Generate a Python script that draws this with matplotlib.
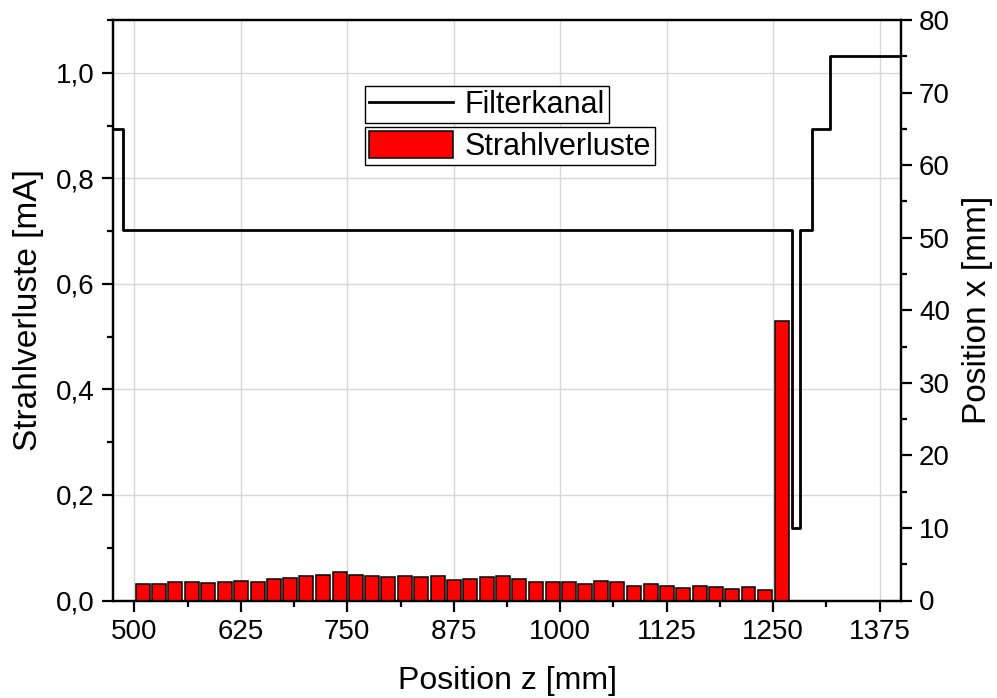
import matplotlib.pyplot as plt
from matplotlib.ticker import MultipleLocator, FuncFormatter
from matplotlib.lines import Line2D
from matplotlib.patches import Patch

plt.rcParams['font.family'] = ['Liberation Sans', 'DejaVu Sans']

# Strahlverluste per position (bars)
z_bars = [510, 529, 548, 568, 587, 606, 625, 645, 664, 683,
          702, 721, 741, 760, 779, 798, 818, 837, 856, 875,
          894, 914, 933, 952, 971, 991, 1010, 1029, 1048, 1067,
          1087, 1106, 1125, 1144, 1164, 1183, 1202, 1221, 1240, 1260]
verluste = [0.032, 0.032, 0.035, 0.035, 0.034, 0.036, 0.037, 0.036, 0.040, 0.042,
            0.046, 0.049, 0.054, 0.048, 0.047, 0.045, 0.047, 0.044, 0.047, 0.039,
            0.041, 0.044, 0.046, 0.040, 0.036, 0.036, 0.036, 0.032, 0.037, 0.036,
            0.027, 0.031, 0.028, 0.023, 0.028, 0.025, 0.021, 0.025, 0.020, 0.529]

# Filterkanal outline (step)
z_filter = [475, 487, 1272, 1282, 1295, 1317, 1400]
x_filter = [65, 51, 10, 51, 65, 75, 75]

fig = plt.figure(figsize=(9.97, 6.98), dpi=100)
ax1 = fig.add_axes([113 / 997, 1 - 600.5 / 698, (901 - 113) / 997, (600.5 - 20) / 698])
ax2 = ax1.twinx()

ax1.bar(z_bars, verluste, width=16.4, color='#ff0000', edgecolor='black',
        linewidth=1.1, zorder=3)
ax2.plot(z_filter, x_filter, drawstyle='steps-post', color='black', linewidth=2.0)

ax1.set_xlim(475, 1400)
ax1.set_ylim(0, 1.1)
ax2.set_ylim(0, 80)

ax1.xaxis.set_major_locator(MultipleLocator(125))
ax1.xaxis.set_minor_locator(MultipleLocator(62.5))
ax1.yaxis.set_major_locator(MultipleLocator(0.2))
ax1.yaxis.set_minor_locator(MultipleLocator(0.1))
ax2.yaxis.set_major_locator(MultipleLocator(10))
ax2.yaxis.set_minor_locator(MultipleLocator(5))
ax1.yaxis.set_major_formatter(FuncFormatter(lambda v, p: f'{v:.1f}'.replace('.', ',')))

ax1.grid(True, which='major', color='#d8d8d8', linewidth=1.0, zorder=0)
ax1.set_axisbelow(True)

for ax in (ax1, ax2):
    for s in ax.spines.values():
        s.set_linewidth(1.6)
    ax.tick_params(which='major', direction='out', length=8, width=1.6, labelsize=20, pad=5)
    ax.tick_params(which='minor', direction='out', length=4.5, width=1.6)
ax1.tick_params(axis='y', which='both', right=False)
ax1.tick_params(axis='x', which='both', top=False)

ax1.set_xlabel('Position z [mm]', fontsize=23)
ax1.set_ylabel('Strahlverluste [mA]', fontsize=24)
ax2.set_ylabel('Position x [mm]', fontsize=24)
ax1.xaxis.set_label_coords(0.5, -0.112)
ax1.yaxis.set_label_coords(-0.088, 0.5)
ax2.yaxis.set_label_coords(1.077, 0.5)

leg_kw = dict(loc='upper left', fontsize=22, frameon=True, fancybox=False,
              edgecolor='black', framealpha=1, borderpad=0.12, borderaxespad=0,
              handletextpad=0.4, bbox_transform=fig.transFigure)
leg1 = ax2.legend([Line2D([], [], color='black', linewidth=2.0)], ['Filterkanal'],
                  bbox_to_anchor=(365 / 997, 1 - 86 / 698), handlelength=2.75, **leg_kw)
leg1.get_frame().set_linewidth(1.0)
ax2.add_artist(leg1)
leg2 = ax2.legend([Patch(facecolor='#ff0000', edgecolor='black', linewidth=1.1)], ['Strahlverluste'],
                  bbox_to_anchor=(365 / 997, 1 - 127 / 698), handlelength=2.75,
                  handleheight=1.0, **leg_kw)
leg2.get_frame().set_linewidth(1.0)

fig.savefig('out.png', dpi=100)
